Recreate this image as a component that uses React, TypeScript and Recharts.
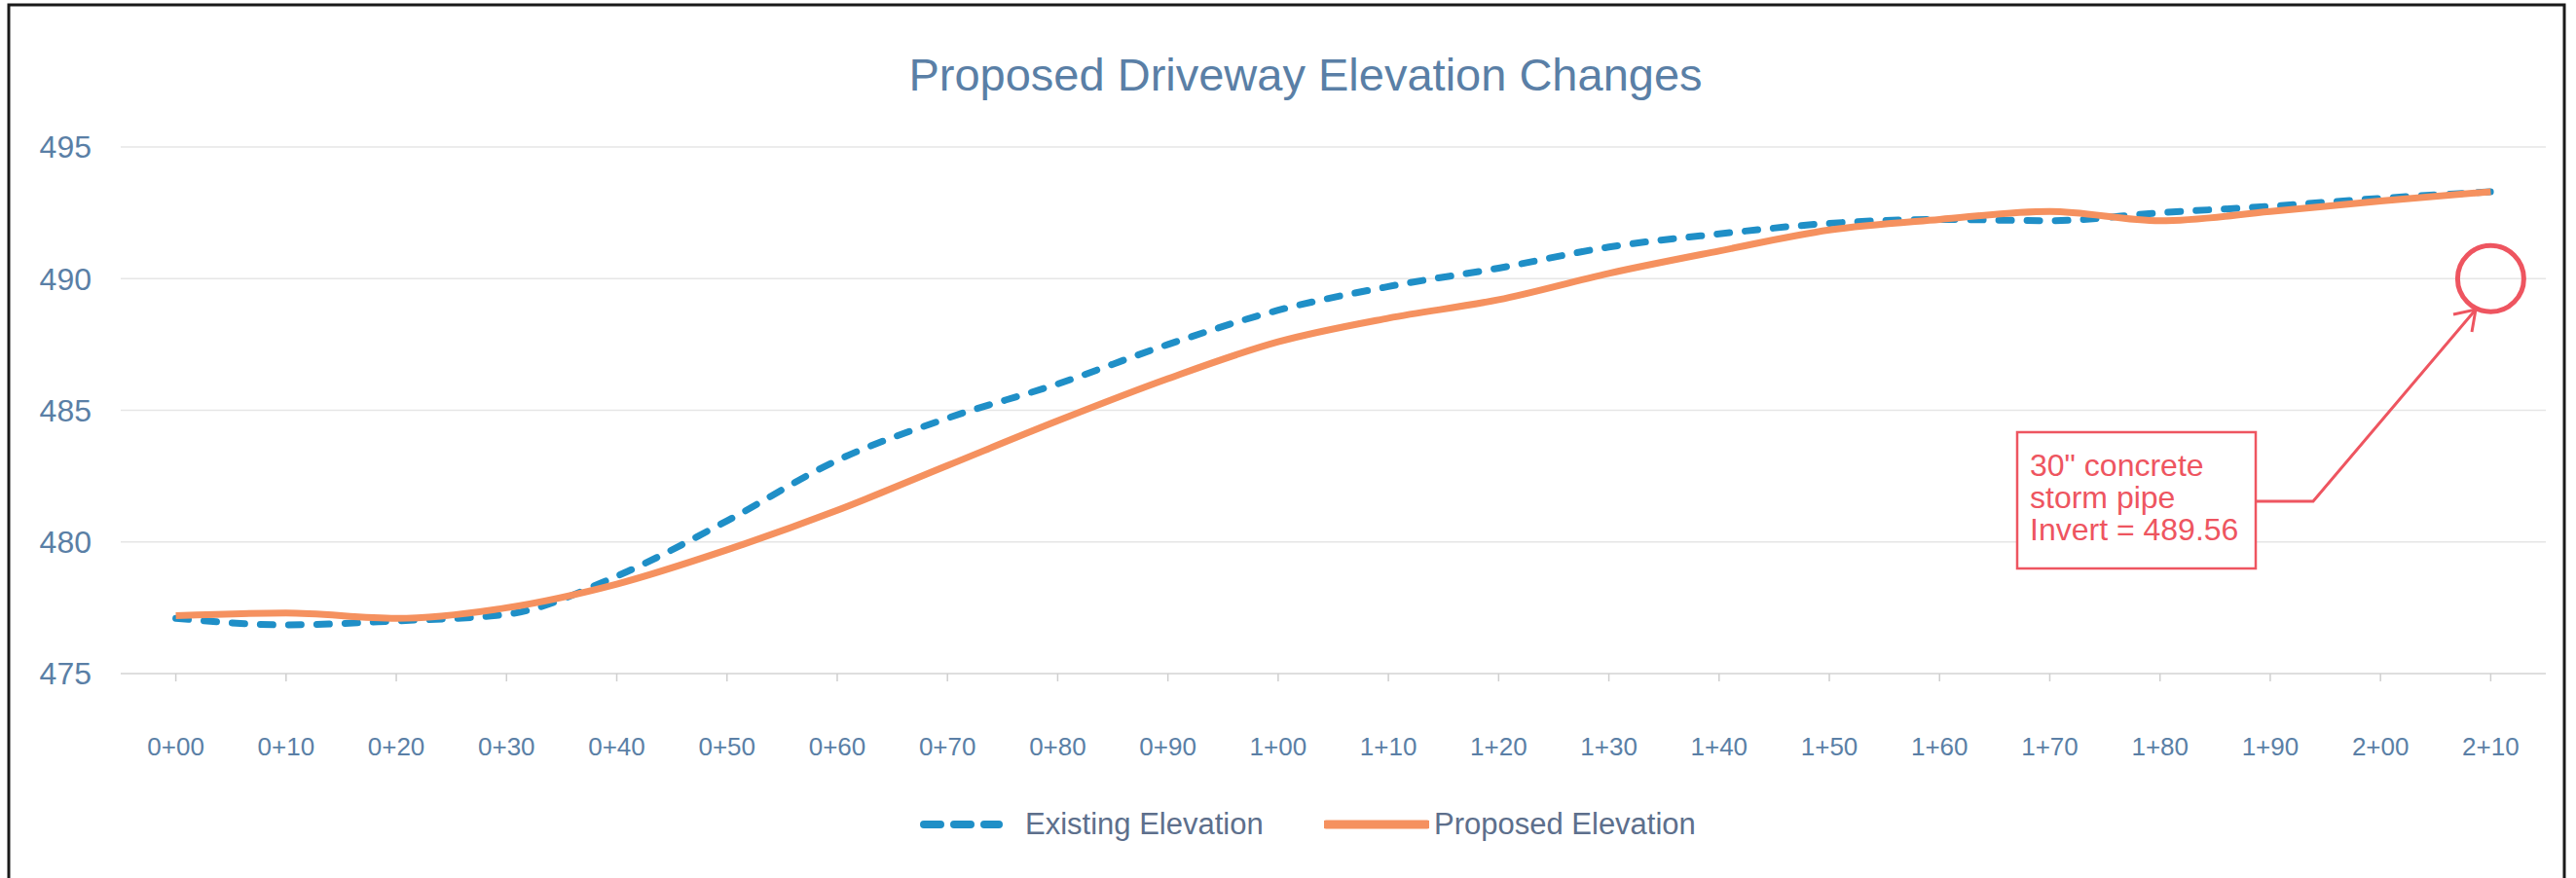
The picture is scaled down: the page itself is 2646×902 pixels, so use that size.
import React from 'react';
import { LineChart, Line, XAxis, YAxis, CartesianGrid, Legend, ReferenceDot } from 'recharts';

const stations = ['0+00', '0+10', '0+20', '0+30', '0+40', '0+50', '0+60', '0+70', '0+80', '0+90', '1+00', '1+10', '1+20', '1+30', '1+40', '1+50', '1+60', '1+70', '1+80', '1+90', '2+00', '2+10'];
const existingElevation = [477.1, 476.85, 477.0, 477.25, 478.7, 480.8, 483.1, 484.7, 486.0, 487.5, 488.8, 489.7, 490.4, 491.2, 491.7, 492.1, 492.25, 492.2, 492.5, 492.75, 493.05, 493.3];
const proposedElevation = [477.2, 477.3, 477.1, 477.5, 478.4, 479.7, 481.2, 482.9, 484.6, 486.2, 487.6, 488.5, 489.2, 490.2, 491.05, 491.85, 492.25, 492.55, 492.2, 492.55, 492.95, 493.3];
const yTicks = [475, 480, 485, 490, 495];
const seriesNames = ['Existing Elevation', 'Proposed Elevation'];
const chartTitle = 'Proposed Driveway Elevation Changes';
const calloutLines = ['30" concrete', 'storm pipe', 'Invert = 489.56'];
const pipeMarkerStation = '2+10';
const pipeMarkerElevation = 490.0;

const data = stations.map((s, i) => ({ station: s, existing: existingElevation[i], proposed: proposedElevation[i] }));

const FONT = "'Liberation Sans', Arial, sans-serif";
const TEXT = '#5a7fa6';
const BLUE = '#1f8fc7';
const ORANGE = '#f5915f';
const RED = '#ee5560';

const renderLegend = (props: any) => {
  const payload = props.payload || [];
  const layout = [
    { left: 945, sample: 85, gap: 23 },
    { left: 1360, sample: 108, gap: 5 },
  ];
  return (
    <div style={{ position: 'relative', width: 2646, height: 50 }}>
      {payload.map((entry: any, i: number) => {
        const l = layout[i] || layout[0];
        const dashed = entry.payload && entry.payload.strokeDasharray;
        return (
          <div key={i} style={{ position: 'absolute', left: l.left, top: 0, height: 50, display: 'flex', alignItems: 'center' }}>
            <svg width={l.sample} height={20} style={{ display: 'block' }}>
              <line x1={dashed ? 4 : 2} y1={10} x2={l.sample - (dashed ? 4 : 2)} y2={10} stroke={entry.color} strokeWidth={dashed ? 8 : 9}
                strokeDasharray={dashed ? '17 14' : undefined} strokeLinecap="round" />
            </svg>
            <span style={{ marginLeft: l.gap, fontFamily: FONT, fontSize: 31, color: '#5d6f8c', whiteSpace: 'nowrap' }}>{entry.value}</span>
          </div>
        );
      })}
    </div>
  );
};

export default function App() {
  return (
    <div style={{ position: 'absolute', left: 0, top: 0, width: 2646, height: 902, background: '#ffffff', overflow: 'hidden' }}>
      <LineChart width={2646} height={902} data={data} margin={{ top: 151, right: 31, bottom: 180, left: 24 }}>
        <CartesianGrid vertical={false} stroke="#e6e6e6" strokeWidth={1.5} />
        <XAxis dataKey="station" interval={0} padding={{ left: 56.6, right: 56.6 }}
          axisLine={{ stroke: '#dadada', strokeWidth: 1.5 }} tickLine={{ stroke: '#cfcfcf', strokeWidth: 1.5 }}
          tickSize={8} tickMargin={26} tick={{ fill: TEXT, fontSize: 26, fontFamily: FONT, dy: 32 }} />
        <YAxis width={100} domain={[475, 495]} ticks={yTicks} axisLine={false} tickLine={false} tickSize={0} tickMargin={30}
          tick={{ fill: TEXT, fontSize: 32, fontFamily: FONT }} />
        <Legend layout="horizontal" verticalAlign="middle" align="center" content={renderLegend}
          wrapperStyle={{ top: 822, left: 0, width: 2646, height: 50 }} />
        <Line type="monotone" dataKey="existing" name={seriesNames[0]} stroke={BLUE} strokeWidth={7} strokeDasharray="13 16"
          strokeLinecap="round" dot={false} activeDot={false} isAnimationActive={false} />
        <Line type="monotone" dataKey="proposed" name={seriesNames[1]} stroke={ORANGE} strokeWidth={7}
          dot={false} activeDot={false} isAnimationActive={false} />
        <ReferenceDot x={pipeMarkerStation} y={pipeMarkerElevation} r={34} fill="none" stroke={RED} strokeWidth={5} ifOverflow="visible" />
      </LineChart>
      <svg width={2646} height={902} style={{ position: 'absolute', left: 0, top: 0, pointerEvents: 'none' }}>
        <rect x={9} y={5} width={2625} height={920} fill="none" stroke="#1a1a1a" strokeWidth={3} />
        <text x={1341} y={93} textAnchor="middle" fontFamily={FONT} fontSize={47} fill={TEXT}>{chartTitle}</text>
        <rect x={2072} y={444} width={245} height={140} fill="#ffffff" stroke={RED} strokeWidth={2.5} />
        {calloutLines.map((t, i) => (
          <text key={i} x={2085} y={489 + i * 33} fontFamily={FONT} fontSize={32} fill={RED}>{t}</text>
        ))}
        <polyline points="2317,515 2376,515 2543,318" fill="none" stroke={RED} strokeWidth={3} />
        <polyline points="2520,323 2543,318 2539,341" fill="none" stroke={RED} strokeWidth={3} />
      </svg>
    </div>
  );
}
